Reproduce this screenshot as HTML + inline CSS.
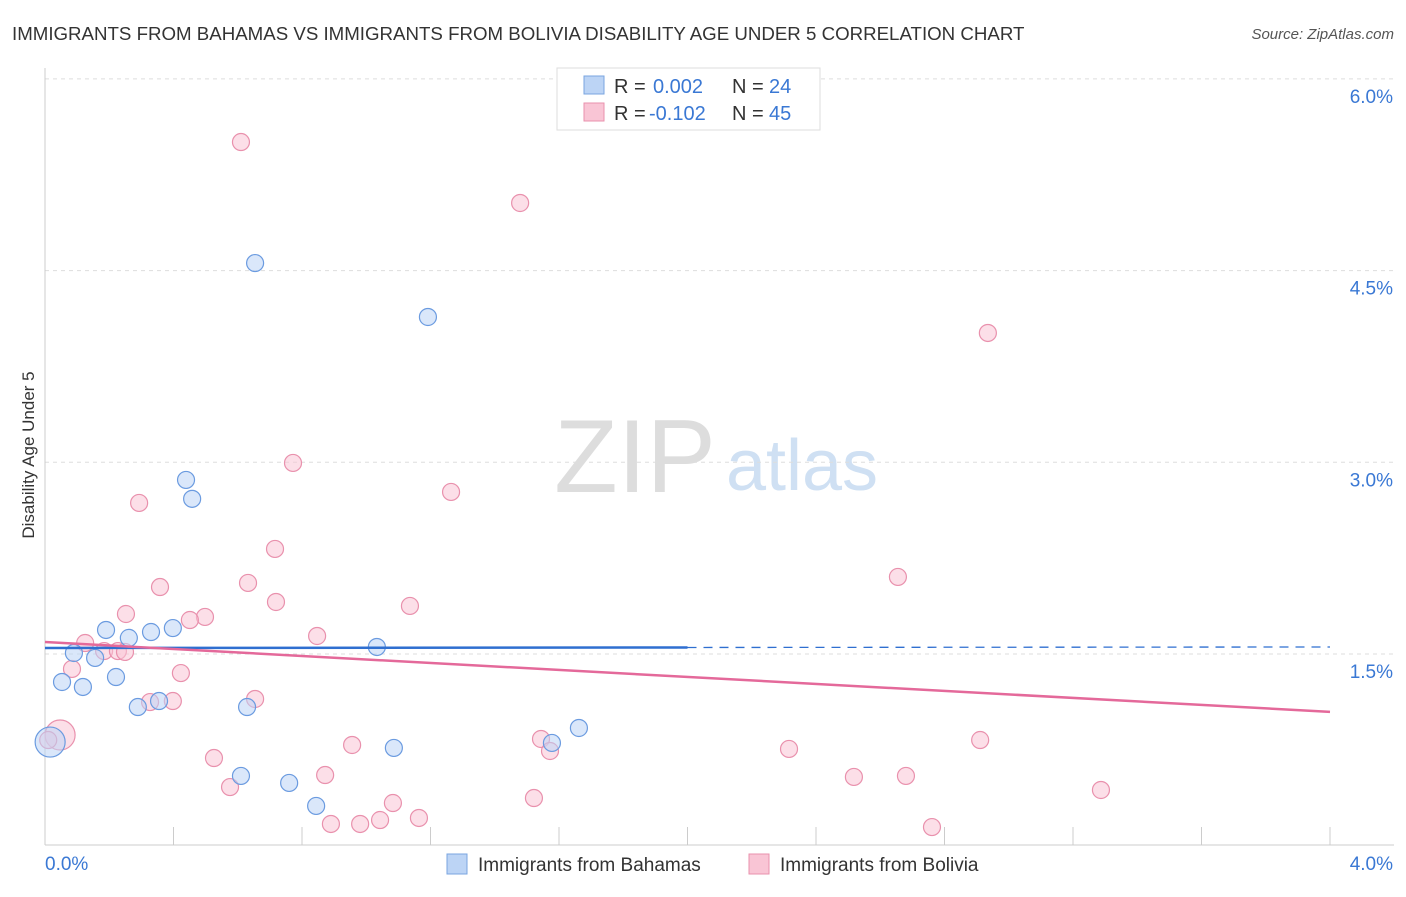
<!DOCTYPE html>
<html><head><meta charset="utf-8"><style>
body{margin:0;background:#fff;font-family:"Liberation Sans",sans-serif}
svg text{font-family:"Liberation Sans",sans-serif}
</style></head><body>
<svg id="c" width="1406" height="892">
<text x="12" y="40" font-size="18.7" fill="#333">IMMIGRANTS FROM BAHAMAS VS IMMIGRANTS FROM BOLIVIA DISABILITY AGE UNDER 5 CORRELATION CHART</text>
<text x="1394" y="39" font-size="15" fill="#555" text-anchor="end" font-style="italic">Source: ZipAtlas.com</text>
<text x="34" y="455" font-size="17" fill="#333" text-anchor="middle" transform="rotate(-90 34 455)">Disability Age Under 5</text>
<g><text x="635" y="492" font-size="104" fill="#ddd" font-family="Liberation Serif" text-anchor="middle">ZIP</text><text x="802" y="490" font-size="72" fill="#cfe0f3" text-anchor="middle">atlas</text></g>
<g id="grid"></g><g id="marks"></g>
<g>
<rect x="557" y="68" width="263" height="62" fill="#fff" stroke="#ddd"/>
<rect x="584" y="76" width="20" height="18" fill="#bcd4f5" stroke="#7aa5e0"/>
<text x="614" y="93" font-size="20" fill="#333">R =</text><text x="653" y="93" font-size="20" fill="#3a78d4">0.002</text>
<text x="732" y="93" font-size="20" fill="#333">N =</text><text x="769" y="93" font-size="20" fill="#3a78d4">24</text>
<rect x="584" y="103" width="20" height="18" fill="#f9c5d5" stroke="#e991ad"/>
<text x="614" y="120" font-size="20" fill="#333">R =</text><text x="649" y="120" font-size="20" fill="#3a78d4">-0.102</text>
<text x="732" y="120" font-size="20" fill="#333">N =</text><text x="769" y="120" font-size="20" fill="#3a78d4">45</text>
</g>
<g>
<rect x="447" y="854" width="20" height="20" fill="#bcd4f5" stroke="#7aa5e0"/>
<text x="478" y="871" font-size="19" fill="#333">Immigrants from Bahamas</text>
<rect x="749" y="854" width="20" height="20" fill="#f9c5d5" stroke="#e991ad"/>
<text x="780" y="871" font-size="19" fill="#333">Immigrants from Bolivia</text>
</g>
</svg>
<script>
const yTicks=[1.5,3.0,4.5,6.0];
const yTickLabels=["1.5%","3.0%","4.5%","6.0%"];
const xTicks=[0,0.4,0.8,1.2,1.6,2.0,2.4,2.8,3.2,3.6,4.0];
const xEndLabels=["0.0%","4.0%"];
const bahamasX=[0.654,1.192,0.439,0.458,0.190,0.261,0.330,0.398,0.090,0.156,0.053,0.118,0.221,0.289,0.355,0.629,1.033,1.662,1.578,1.086,0.610,0.760,0.844,0.016];
const bahamasY=[4.559,4.137,2.862,2.714,1.688,1.626,1.672,1.703,1.508,1.469,1.281,1.242,1.320,1.085,1.132,1.085,1.555,0.921,0.804,0.765,0.546,0.491,0.311,0.811];
const boliviaX=[0.610,1.479,2.935,0.772,1.264,0.293,0.716,2.655,0.632,0.358,0.719,1.136,0.252,0.498,0.451,0.847,0.125,0.184,0.227,0.084,0.423,0.327,0.398,0.654,0.956,1.544,1.572,2.316,2.911,0.526,0.872,2.518,2.680,0.576,1.083,1.522,3.287,0.890,0.981,1.043,1.164,2.761,0.047,0.010,0.249];
const boliviaY=[5.506,5.029,4.012,2.995,2.768,2.682,2.322,2.103,2.056,2.024,1.907,1.876,1.813,1.790,1.766,1.641,1.586,1.523,1.523,1.383,1.351,1.124,1.132,1.148,0.788,0.835,0.741,0.757,0.827,0.686,0.553,0.538,0.546,0.459,0.334,0.373,0.436,0.170,0.170,0.201,0.217,0.146,0.866,0.827,1.516];
const trendBahamas=[1.547,1.555];
const trendBolivia=[1.594,1.047];
const X=v=>45+v*321.25, Y=v=>654-(v-1.5)*127.8;
const NS="http://www.w3.org/2000/svg";
function mk(p,t,a){const e=document.createElementNS(NS,t);for(const k in a)e.setAttribute(k,a[k]);p.appendChild(e);return e;}
const g=document.getElementById('grid'),m=document.getElementById('marks');
yTicks.forEach((t,i)=>{const l=mk(g,'line',{x1:45,x2:1394,y1:Y(t),y2:Y(t),stroke:'#ddd','stroke-dasharray':'4,4'});


const tx=mk(g,'text',{x:1393,y:Y(t)+24,'font-size':19,fill:'#3a78d4','text-anchor':'end'});tx.textContent=yTickLabels[i];

});
const ax=mk(g,'line',{x1:45,x2:1394,y1:845,y2:845,stroke:'#ccc'});


const ay=mk(g,'line',{x1:45,x2:45,y1:68,y2:845,stroke:'#ccc'});


xTicks.forEach(t=>{const l=mk(g,'line',{x1:X(t),x2:X(t),y1:827,y2:845,stroke:'#ccc'});

});
[[0,'start',45],[4,'end',1393]].forEach((d,i)=>{const tx=mk(g,'text',{x:d[2],y:870,'font-size':19,fill:'#3a78d4','text-anchor':d[1]});tx.textContent=xEndLabels[i];

});
function pts(xs,ys,fill,stroke,name,big){xs.forEach((x,i)=>{const c=mk(m,'circle',{cx:X(x),cy:Y(ys[i]),r:(i===big?15:8.5),fill:fill,'fill-opacity':0.55,stroke:stroke,'stroke-width':1.2});

});}
pts(boliviaX,boliviaY,'#f9c5d5','#e991ad','bolivia-point',42);
pts(bahamasX,bahamasY,'#bcd4f5','#6b9be0','bahamas-point',23);
const tb=v=>trendBahamas[0]+(trendBahamas[1]-trendBahamas[0])*v/4;
const l1=mk(m,'line',{x1:X(0),y1:Y(tb(0)),x2:X(2),y2:Y(tb(2)),stroke:'#2f6fd0','stroke-width':2.5});


const l2=mk(m,'line',{x1:X(2),y1:Y(tb(2)),x2:X(4),y2:Y(tb(4)),stroke:'#2f6fd0','stroke-width':1.3,'stroke-dasharray':'9,7'});


const l3=mk(m,'line',{x1:X(0),y1:Y(trendBolivia[0]),x2:X(4),y2:Y(trendBolivia[1]),stroke:'#e4699a','stroke-width':2.5});


</script>
</body></html>
